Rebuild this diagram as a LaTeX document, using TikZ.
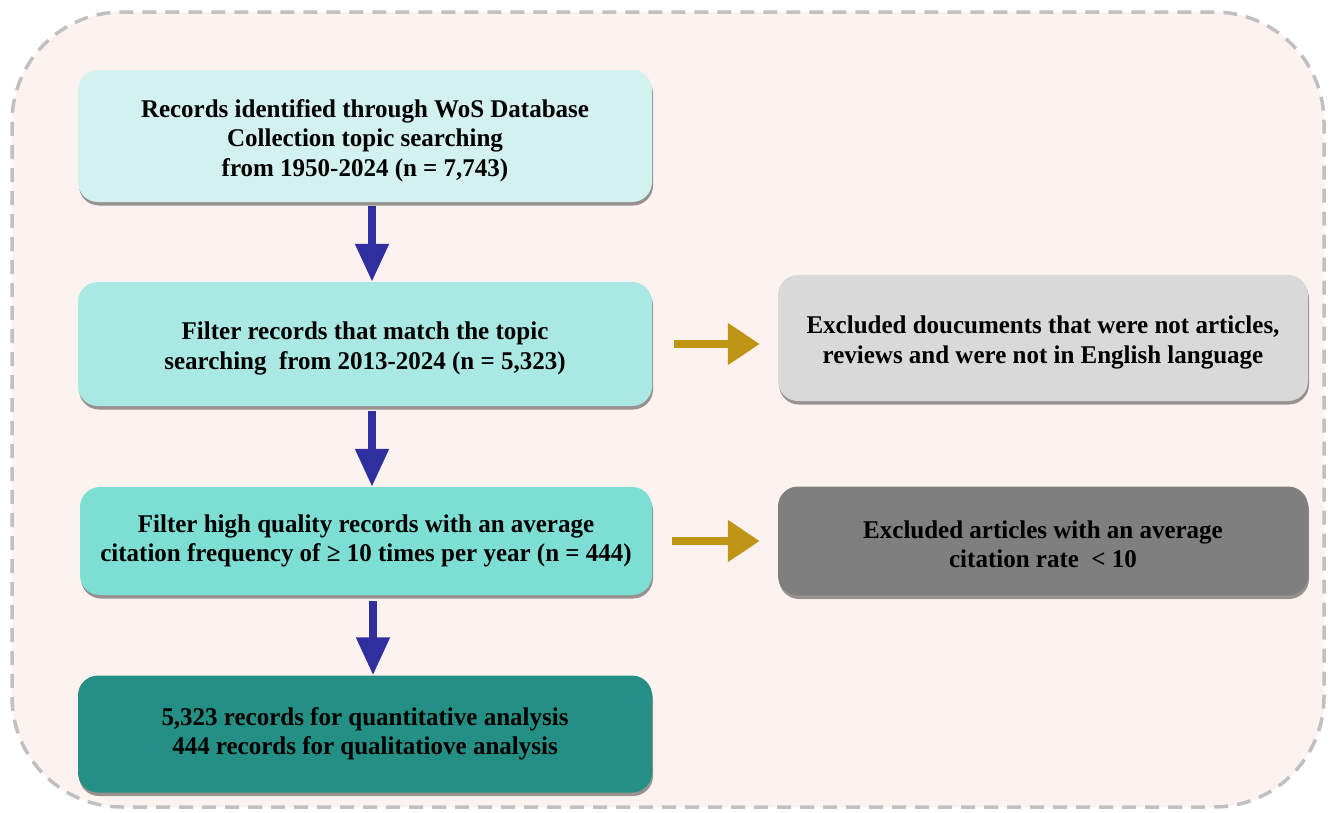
\documentclass[tikz,border=0pt]{standalone}
\usepackage{fontspec}
\newfontfamily\tnr[FakeStretch=0.98]{Liberation Serif}
\usetikzlibrary{arrows.meta,shadows}
\newcommand\topstrut{\rule{0pt}{27pt}}
\definecolor{bgpink}{HTML}{FCF2F0}
\definecolor{dashgray}{HTML}{C0C0C0}
\definecolor{cA}{HTML}{D3F2EF}
\definecolor{cB}{HTML}{AAE9E3}
\definecolor{cC}{HTML}{7DDFD4}
\definecolor{cD}{HTML}{248F84}
\definecolor{gA}{HTML}{D9D9D9}
\definecolor{gB}{HTML}{7F7F7F}
\definecolor{blueA}{HTML}{2F2FA0}
\definecolor{goldA}{HTML}{C09515}
\tikzset{
  x=1pt,y=-1pt,
  box/.style={rectangle, rounded corners=20pt, draw=none, align=center,
    font=\tnr\bfseries\fontsize{25.5}{29.5}\selectfont, text=black,
    drop shadow={shadow xshift=1pt, shadow yshift=-3.5pt, fill=black, opacity=0.4}},
  down/.style={draw=blueA, line width=8pt, -{Triangle[width=32pt,length=38pt,fill=blueA]}},
  side/.style={draw=goldA, line width=8pt, -{Triangle[width=40pt,length=32pt,fill=goldA]}},
}
\begin{document}
\begin{tikzpicture}
\useasboundingbox (0,0) rectangle (1335,812);
\draw[fill=bgpink, draw=dashgray, line width=3.5pt, dash pattern=on 14pt off 9pt, rounded corners=110pt]
  (12,12) rectangle (1324,807);
\node[box, fill=cA, minimum width=574pt, minimum height=132pt] (b1) at (365,136)
  {\topstrut Records identified through WoS Database\\Collection topic searching\\from 1950-2024 (n = 7,743)};
\node[box, fill=cB, minimum width=574pt, minimum height=124pt] (b2) at (365,344)
  {\topstrut Filter records that match the topic\\searching\ \ from 2013-2024 (n = 5,323)};
\node[box, fill=cC, minimum width=572pt, minimum height=108pt] (b3) at (366,541)
  {Filter high quality records with an average\\citation frequency of ≥ 10 times per year (n = 444)};
\node[box, fill=cD, minimum width=574pt, minimum height=117pt] (b4) at (365,734)
  {5,323 records for quantitative analysis\\444 records for qualitatiove analysis};
\node[box, fill=gA, minimum width=530pt, minimum height=126pt] (e1) at (1043,338)
  {\topstrut Excluded doucuments that were not articles,\\reviews and were not in English language};
\node[box, fill=gB, minimum width=530pt, minimum height=109pt] (e2) at (1043,541)
  {\rule{0pt}{24pt}Excluded articles with an average\\citation rate\ \ < 10};
\draw[down] ([xshift=7pt,yshift=-4pt]b1.south) -- ([xshift=7pt]b1.south |- b2.north);
\draw[down] ([xshift=7pt,yshift=-5pt]b2.south) -- ([xshift=7pt]b2.south |- b3.north);
\draw[down] ([xshift=7pt,yshift=-6pt]b3.south) -- ([xshift=7pt]b3.south |- b4.north);
\draw[side] ([xshift=22pt]b2.east) -- ([xshift=-18pt]b2.east -| e1.west);
\draw[side] ([xshift=20pt]b3.east) -- ([xshift=-18pt]b3.east -| e2.west);
\end{tikzpicture}
\end{document}
